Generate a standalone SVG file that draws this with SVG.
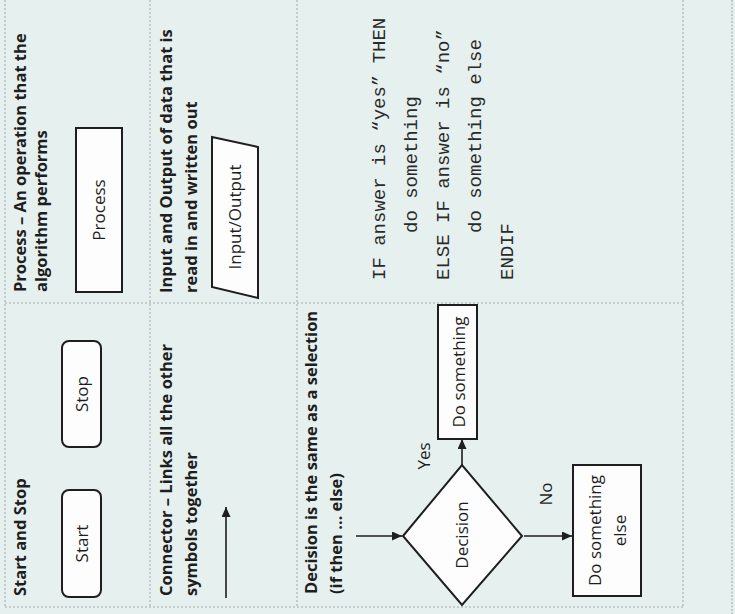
<svg xmlns="http://www.w3.org/2000/svg" width="735" height="614" viewBox="0 0 735 614">
<defs>
<marker id="arrow" markerUnits="userSpaceOnUse" markerWidth="10" markerHeight="9" refX="10" refY="4.5" orient="auto">
<path d="M0,0 L10,4.5 L0,9 z" fill="#1e1e1e"/>
</marker>
</defs>
<style>
.grid{stroke:#9fa9a8;stroke-width:1;stroke-dasharray:2 2;fill:none}
.edge{stroke:#aab3b2;stroke-width:1.2;stroke-dasharray:2 1.5;fill:none}
.shape{fill:#fdfdfd;stroke:#1e1e1e;stroke-width:2}
.title{font-family:"Open Sans","DejaVu Sans",sans-serif;font-weight:bold;font-size:16.5px;fill:#1e1e1e}
.lbl{font-family:"Open Sans","DejaVu Sans",sans-serif;font-size:17px;fill:#1e1e1e}
.c{text-anchor:middle}
.code{font-family:"Liberation Mono","Courier New",monospace;font-size:19px;fill:#2a2a2a}
.conn{stroke:#1e1e1e;stroke-width:1.6;fill:none;marker-end:url(#arrow)}
</style>
<rect x="0" y="0" width="735" height="614" fill="#e6f1ef"/>
<g id="table">
<line class="grid" x1="5" y1="0" x2="5" y2="607"/>
<line class="grid" x1="150" y1="0" x2="150" y2="607"/>
<line class="grid" x1="297" y1="0" x2="297" y2="607"/>
<line class="grid" x1="683" y1="0" x2="683" y2="607"/>
<line class="grid" x1="5" y1="303" x2="683" y2="303"/>
<line class="grid" x1="5" y1="607" x2="683" y2="607"/>
<line class="edge" x1="732" y1="0" x2="732" y2="614"/>
</g>
<g transform="translate(0,614) rotate(-90)">
<g id="titles">
<text class="title" x="18" y="26">Start and Stop</text>
<text class="title" x="322" y="26">Process – An operation that the</text>
<text class="title" x="322" y="47">algorithm performs</text>
<text class="title" x="18" y="172">Connector – Links all the other</text>
<text class="title" x="18" y="197">symbols together</text>
<text class="title" x="321" y="172">Input and Output of data that is</text>
<text class="title" x="321" y="197">read in and written out</text>
<text class="title" x="20" y="317">Decision is the same as a selection</text>
<text class="title" x="20" y="342">(if then … else)</text>
</g>
<g id="start">
<rect class="shape" x="17" y="62" width="107" height="39" rx="7"/>
<text class="lbl c" x="70.5" y="88">Start</text>
</g>
<g id="stop">
<rect class="shape" x="167" y="62" width="106" height="39" rx="7"/>
<text class="lbl c" x="220" y="88">Stop</text>
</g>
<g id="process">
<rect class="shape" x="322" y="76" width="164" height="46"/>
<text class="lbl c" x="404" y="105">Process</text>
</g>
<g id="inputoutput">
<polygon class="shape" points="327,212 477,212 467,258 316,258"/>
<text class="lbl c" x="397" y="241">Input/Output</text>
</g>
<g id="decision">
<polygon class="shape" points="78,403 149,462 78,522 9,462"/>
<text class="lbl c" x="79" y="468">Decision</text>
</g>
<g id="dosomething">
<rect class="shape" x="175" y="438" width="134" height="39"/>
<text class="lbl c" x="242" y="465">Do something</text>
</g>
<g id="dosomethingelse">
<rect class="shape" x="18" y="573" width="131" height="68"/>
<text class="lbl c" x="83.5" y="601">Do something</text>
<text class="lbl c" x="83.5" y="626">else</text>
</g>
<g id="connectors">
<line class="conn" x1="16" y1="226" x2="107" y2="226"/>
<line class="conn" x1="78" y1="356" x2="78" y2="402"/>
<line class="conn" x1="149" y1="462" x2="175" y2="462"/>
<line class="conn" x1="78" y1="524" x2="78" y2="572"/>
</g>
<g id="edge-labels">
<text class="lbl c" x="158" y="430">Yes</text>
<text class="lbl c" x="120" y="552">No</text>
</g>
<g id="pseudocode">
<text class="code" x="334" y="385">IF answer is “yes” THEN</text>
<text class="code" x="381" y="417">do something</text>
<text class="code" x="334" y="449">ELSE IF answer is “no”</text>
<text class="code" x="381" y="481">do something else</text>
<text class="code" x="334" y="513">ENDIF</text>
</g>
</g>
</svg>
